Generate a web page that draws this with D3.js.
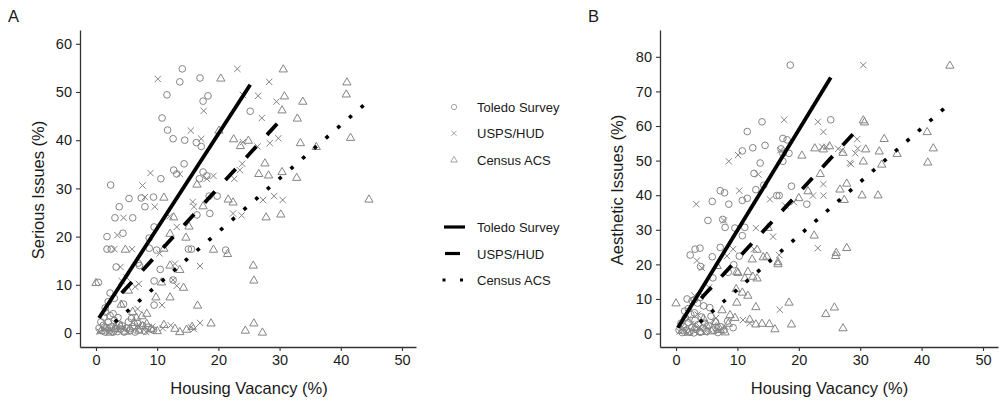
<!DOCTYPE html>
<html>
<head>
<meta charset="utf-8">
<script src="https://cdnjs.cloudflare.com/ajax/libs/d3/7.8.5/d3.min.js"></script>
<style>
  body { margin: 0; background: #fff; }
  svg text { font-family: "Liberation Sans", Arial, Helvetica, sans-serif; }
</style>
</head>
<body>
<svg id="chart" width="1001" height="403"></svg>
<script>

// ---- data (x = housing vacancy %, y = issues %) ----

var seriesNames = ["Toledo Survey", "USPS/HUD", "Census ACS"];
var xTicks = [0, 10, 20, 30, 40, 50];
var yTicksA = [0, 10, 20, 30, 40, 50, 60];
var yTicksB = [0, 10, 20, 30, 40, 50, 60, 70, 80];

var toledoA = [[14.1,54.8],[13.7,52.1],[17.0,52.9],[11.6,49.4],[17.5,48.1],[18.3,49.2],[10.8,44.6],[25.2,46.0],[11.7,42.1],[12.6,40.3],[14.5,40.0],[16.4,39.5],[17.2,38.7],[14.4,35.1],[12.7,33.8],[13.2,33.0],[10.6,32.0],[17.5,33.4],[18.1,32.6],[16.9,32.0],[2.4,30.7],
  [5.4,27.9],[8.0,26.2],[3.8,26.2],[3.1,23.9],[6.0,23.9],[1.8,20.0],[4.4,20.7],[1.8,17.4],[2.5,17.4],[3.3,13.7],[0.4,10.5],[18.5,28.4],[19.8,28.4],[18.6,24.8],[16.5,24.5],[9.5,22.0],[8.7,19.7],[9.9,17.2],[8.7,17.6],[15.1,17.4],[15.6,17.4],[21.2,17.2],[10.5,13.2],[9.5,10.8],[12.6,11.0],[9.5,5.8],[6.9,14.5],[7.1,14.0],[2.3,8.3],[2.0,6.5],[1.5,5.2],[3.0,7.2],[2.8,4.0],[4.5,6.0],[7.4,28.0],[9.4,28.2],
  [0.5,1.0],[1.0,0.5],[1.2,1.6],[1.5,0.2],[1.8,1.1],[2.0,2.2],[2.2,0.5],[2.5,1.3],[2.8,0.2],[3.0,2.6],[3.2,1.0],[3.5,0.3],[3.8,1.8],[4.0,0.8],[4.3,1.5],[4.6,0.2],[5.0,1.0],[5.3,2.3],[5.6,0.5],[6.0,1.3],[6.4,0.2],[6.8,2.0],[7.2,0.8],[7.6,1.6],[8.0,0.4],[8.5,1.2],[9.0,0.8],[1.3,3.3],[2.3,3.6],[0.8,2.3],[9.4,0.6],[1.6,4.3],[3.6,3.2],[5.8,3.0]];

var uspsA = [[10.1,52.7],[23.1,54.8],[17.6,46.1],[24.0,49.4],[28.3,52.1],[26.5,49.2],[29.5,48.0],[27.1,44.6],[15.5,42.0],[17.2,40.3],[24.0,39.6],[26.4,38.7],[28.4,39.4],[29.8,40.4],[23.9,35.1],[23.5,33.8],[13.7,33.0],[8.9,33.2],[7.6,30.6],[19.2,32.6],[22.6,32.0],[18.1,32.0],
  [27.3,27.6],[29.1,28.4],[30.5,27.6],[8.0,28.2],[9.6,26.2],[15.8,27.2],[16.0,26.2],[13.2,22.0],[4.5,23.9],[3.5,20.3],[3.0,17.4],[5.9,17.4],[4.0,13.7],[10.4,16.5],[12.9,14.4],[17.0,13.9],[12.6,11.0],[13.2,9.8],[6.4,9.6],[10.8,5.8],[22.4,24.8],[23.8,24.4],[12.0,24.2],[17.0,2.1],[10.9,1.0],[4.2,10.8],[5.0,11.5],[7.0,10.2],[6.8,5.0],[3.2,2.0],
  [0.6,0.3],[1.4,0.8],[2.1,0.2],[2.9,1.2],[3.7,0.5],[4.4,1.0],[5.2,0.3],[6.2,0.8],[7.0,1.4],[8.2,0.2],[9.2,1.3],[12.2,1.6],[15.5,1.2],[16.0,0.8]];

var acsA = [[20.4,52.9],[30.6,54.8],[41.0,52.1],[40.9,49.6],[30.8,49.2],[33.8,48.1],[30.4,46.3],[32.9,44.6],[20.1,42.1],[22.5,40.3],[23.6,38.9],[24.9,40.0],[33.4,39.5],[36.0,38.7],[41.6,40.6],[27.6,35.3],[26.6,33.1],[28.2,32.8],[30.4,33.5],[32.8,32.3],[16.5,30.9],[44.6,27.8],[25.7,14.1],[25.8,11.0],[25.8,2.1],[27.2,0.2],[27.8,24.1],[30.2,24.7],[24.4,0.6],
  [11.1,28.2],[17.5,26.4],[21.6,27.8],[22.4,27.2],[12.7,24.1],[15.2,22.2],[12.1,20.7],[14.7,19.9],[4.8,17.4],[11.1,17.6],[19.2,17.4],[21.5,16.5],[12.1,14.1],[13.7,13.2],[10.7,10.6],[14.3,9.5],[12.1,7.5],[9.8,7.5],[8.3,4.1],[16.6,5.8],[4.1,6.0],[5.3,8.9],[6.6,3.3],[18.8,2.1],[0.0,10.5],[11.1,1.8],[12.9,1.0],[13.7,0.3],[14.8,0.8],[15.7,1.4],[7.6,1.5],[8.3,2.0],
  [0.8,0.5],[1.5,1.2],[2.3,0.2],[3.1,0.9],[4.0,1.6],[4.8,0.4],[5.5,1.0],[6.3,2.2],[7.0,0.6],[9.0,1.0],[10.0,0.5],[6.0,4.5],[7.5,3.6]];

var toledoB = [[18.6,77.6],[14.0,61.2],[25.2,61.8],[11.6,58.4],[17.4,56.4],[18.1,56.0],[12.5,53.7],[14.5,54.4],[10.8,52.8],[17.1,53.4],[17.4,52.1],[18.4,52.1],[13.7,49.3],[17.4,49.8],[12.7,46.3],[14.3,42.9],[13.0,41.6],[18.8,42.6],[7.2,41.3],[7.9,40.7],[16.4,39.9],[16.8,39.9],[5.9,38.2],[8.6,37.4],[10.8,38.5],[21.3,37.4],[11.6,39.1],
  [5.2,32.7],[8.0,30.7],[9.6,30.5],[11.2,30.7],[10.8,28.3],[2.3,22.7],[3.1,24.4],[3.9,24.7],[4.0,19.4],[5.9,22.2],[7.2,24.9],[10.3,22.4],[9.4,19.9],[8.5,17.7],[6.0,16.1],[1.8,10.0],[2.6,9.5],[3.5,8.8],[4.5,8.0],[5.5,7.5],[3.0,6.0],[9.3,1.7],[7.6,33.0],
  [0.5,1.0],[0.8,3.0],[1.0,0.3],[1.2,2.0],[1.5,4.5],[1.7,1.0],[2.0,3.2],[2.2,0.5],[2.4,5.5],[2.6,1.8],[2.9,0.2],[3.1,3.8],[3.3,1.2],[3.6,2.6],[3.9,0.4],[4.1,4.8],[4.4,1.6],[4.7,3.0],[5.0,0.6],[5.3,2.2],[5.7,5.0],[6.0,1.0],[6.4,3.4],[6.8,0.3],[7.2,2.0],[7.8,1.0],[8.4,3.6],[1.4,6.5],[2.0,7.2],[3.0,9.8],[4.0,10.5]];

var uspsB = [[30.5,77.6],[17.6,61.8],[23.1,61.2],[24.0,58.3],[8.6,49.8],[10.1,51.6],[23.8,54.0],[26.4,53.4],[29.5,56.2],[29.2,52.1],[28.3,49.3],[24.0,43.2],[24.0,39.9],[22.3,39.9],[13.4,46.0],[10.3,41.3],[15.3,38.8],[3.3,37.4],[17.0,53.0],[29.6,53.5],[28.5,49.0],[24.5,54.0],[27.0,53.0],
  [7.8,32.7],[13.0,30.5],[15.8,28.0],[23.1,24.7],[3.4,21.1],[9.3,24.4],[12.7,24.4],[16.8,22.7],[16.9,6.9],[10.9,3.9],[5.4,13.3],[3.0,11.0],[8.3,22.4],[4.2,19.0],[17.8,37.0],[19.2,38.0],[6.5,4.5],[12.0,3.0],
  [0.6,0.6],[1.3,1.5],[1.9,0.2],[2.5,2.8],[3.2,0.8],[3.9,1.9],[4.6,0.3],[5.4,1.2],[6.1,2.4],[7.0,0.8],[2.0,4.2],[3.5,5.5],[8.0,2.0]];

var acsB = [[44.6,77.6],[30.5,61.8],[30.7,61.2],[40.9,58.4],[33.9,56.4],[41.9,53.7],[30.9,53.4],[33.1,52.8],[36.0,52.1],[22.6,53.7],[24.0,53.4],[25.0,54.3],[20.5,51.6],[27.2,52.4],[41.0,49.6],[33.5,49.0],[30.5,49.9],[23.5,46.3],[27.8,43.5],[26.7,41.8],[21.5,41.3],[30.3,40.1],[32.9,40.1],[27.4,38.8],[20.0,39.3],[26.1,23.5],[26.0,22.6],[27.8,24.9],[25.8,7.7],[24.4,5.8],[27.2,1.7],[22.5,28.5],
  [15.0,30.7],[6.7,19.7],[12.4,21.6],[13.2,24.4],[14.2,22.2],[16.6,20.2],[11.7,18.0],[12.5,16.6],[10.1,17.7],[9.8,13.0],[10.8,12.0],[11.7,11.1],[9.9,9.1],[13.0,7.8],[18.4,9.1],[0.0,8.9],[7.5,6.9],[8.8,5.5],[9.6,4.7],[12.0,4.2],[13.0,2.8],[14.0,3.0],[15.2,2.9],[16.1,1.4],[18.8,2.8],[6.7,1.7],[9.9,18.0],[13.2,16.1],[11.2,16.1],[14.8,22.4],[16.6,20.8],
  [1.0,1.0],[2.0,0.4],[3.0,1.8],[4.0,0.6],[5.0,2.5],[5.8,0.8],[6.5,3.5],[7.2,1.2],[8.0,0.5],[4.5,4.5],[8.5,3.0]];

// fitted lines, start and end points
var fitToledoA = [[0.5,3.1],[25.2,51.5]];
var fitUspsA   = [[4.2,8.3],[29.6,43.4]];
var fitAcsA    = [[3.3,2.5],[43.6,47.1]];
var fitToledoB = [[0.3,1.7],[25.2,74.0]];
var fitUspsB   = [[4.1,10.2],[28.8,57.6]];
var fitAcsB    = [[4.1,3.6],[43.5,64.8]];

// ---- drawing ----

var svg = d3.select("#chart");
var grey = "#858585";
var ink = "#1a1a1a";

function crossPath(s) {
  return "M" + (-s) + "," + (-s) + "L" + s + "," + s + "M" + (-s) + "," + s + "L" + s + "," + (-s);
}
function trianglePath(s) {
  var h = s * 1.25;
  return "M0," + (-h * 1.05) + "L" + (h * 1.05) + "," + (h * 0.78) + "L" + (-h * 1.05) + "," + (h * 0.78) + "Z";
}
function circlePath(r) {
  var p = d3.path();
  p.arc(0, 0, r, 0, 2 * Math.PI);
  p.closePath();
  return p.toString();
}
function shapePath(k, s) {
  if (k == 0) return circlePath(s * 1.06);
  if (k == 1) return crossPath(s);
  return trianglePath(s);
}

function drawPanel(p) {
  var x = d3.scaleLinear().domain(p.xDomain).range([p.left, p.right]);
  var y = d3.scaleLinear().domain(p.yDomain).range([347, 30]);
  var g = svg.append("g");

  // points
  p.series.forEach(function (pts, k) {
    g.append("g").selectAll("path")
      .data(pts)
      .enter()
      .append("path")
      .attr("d", shapePath(k, 3.15))
      .attr("transform", function (d) { return "translate(" + x(d[0]) + "," + y(d[1]) + ")"; })
      .attr("fill", "none")
      .attr("stroke", grey)
      .attr("stroke-width", 1);
  });

  // fit lines
  var line = d3.line().x(function (d) { return x(d[0]); }).y(function (d) { return y(d[1]); });
  p.fits.forEach(function (f, k) {
    var path = g.append("path")
      .attr("d", line(f))
      .attr("fill", "none")
      .attr("stroke", "#000")
      .attr("stroke-width", 3.8);
    var len = Math.hypot(x(f[1][0]) - x(f[0][0]), y(f[1][1]) - y(f[0][1]));
    if (k == 1) {
      var n = Math.round((len + 15.6) / 30.6);
      var gap = (len - 15 * n) / (n - 1);
      path.attr("stroke-dasharray", "15," + gap);
    }
    if (k == 2) {
      var m = Math.round(len / 15.5);
      path.attr("stroke-dasharray", "0.01," + (len / m - 0.05))
        .attr("stroke-linecap", "square")
        .attr("stroke-width", 3.6);
    }
  });

  // axes
  var xAxis = d3.axisBottom(x).tickValues(xTicks).tickSizeInner(4).tickSizeOuter(0).tickPadding(4);
  var yAxis = d3.axisLeft(y).tickValues(p.yTicks).tickSizeInner(4).tickSizeOuter(0).tickPadding(4);

  var gx = g.append("g").attr("transform", "translate(0,347)").call(xAxis);
  var gy = g.append("g").attr("transform", "translate(" + p.left + ",0)").call(yAxis);
  [gx, gy].forEach(function (a) {
    a.select(".domain").attr("stroke", "#333").attr("stroke-width", 1.3);
    a.selectAll(".tick line").attr("stroke", "#333").attr("stroke-width", 1.1);
    a.selectAll(".tick text").attr("fill", ink).style("font-size", "14.5px")
      .style("font-family", "'Liberation Sans', Arial, sans-serif");
  });

  g.append("text")
    .attr("x", (x(0) + x(50)) / 2)
    .attr("y", 394)
    .attr("text-anchor", "middle")
    .attr("fill", ink)
    .style("font-size", "16.5px")
    .text("Housing Vacancy (%)");

  g.append("text")
    .attr("transform", "translate(" + p.titleX + ",190) rotate(-90)")
    .attr("text-anchor", "middle")
    .attr("fill", ink)
    .style("font-size", "16.5px")
    .text(p.yTitle);

  g.append("text")
    .attr("x", p.tagX)
    .attr("y", 22)
    .attr("fill", ink)
    .style("font-size", "16.5px")
    .text(p.tag);
}

drawPanel({
  tag: "A", tagX: 8, titleX: 44, yTitle: "Serious Issues (%)",
  left: 80, right: 416,
  xDomain: [-2.61, 52.29], yDomain: [-2.9, 62.86], yTicks: yTicksA,
  series: [toledoA, uspsA, acsA],
  fits: [fitToledoA, fitUspsA, fitAcsA]
});

drawPanel({
  tag: "B", tagX: 588, titleX: 623, yTitle: "Aesthetic Issues (%)",
  left: 660, right: 998,
  xDomain: [-2.61, 52.44], yDomain: [-3.88, 87.75], yTicks: yTicksB,
  series: [toledoB, uspsB, acsB],
  fits: [fitToledoB, fitUspsB, fitAcsB]
});

// legend
var leg = svg.append("g");
seriesNames.forEach(function (name, k) {
  var yy = 107 + k * 26.3;
  leg.append("path")
    .attr("d", shapePath(k, 2.5))
    .attr("transform", "translate(454," + yy + ")")
    .attr("fill", "none")
    .attr("stroke", "#9a9a9a")
    .attr("stroke-width", 0.9);
  leg.append("text")
    .attr("x", 477).attr("y", yy + 5)
    .attr("fill", ink)
    .style("font-size", "13px")
    .text(name);

  var ly = 227 + k * 26.5;
  var l = leg.append("line")
    .attr("x1", 444).attr("x2", k == 2 ? 462 : 465)
    .attr("y1", ly).attr("y2", ly)
    .attr("stroke", "#000")
    .attr("stroke-width", 3.2);
  if (k == 1) l.attr("x1", 445).attr("x2", 460);
  if (k == 2) l.attr("stroke-dasharray", "0.01,17.5").attr("stroke-linecap", "square").attr("stroke-width", 3);
  leg.append("text")
    .attr("x", 477).attr("y", ly + 5)
    .attr("fill", ink)
    .style("font-size", "13px")
    .text(name);
});

</script>
</body>
</html>
